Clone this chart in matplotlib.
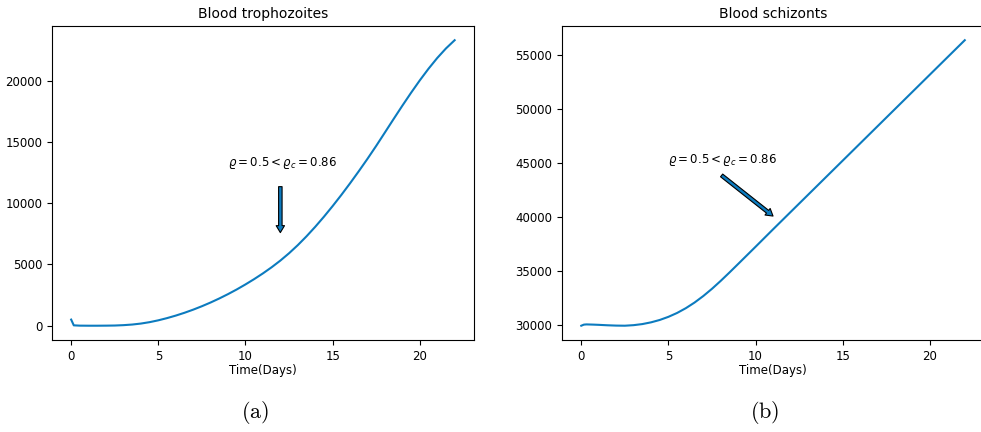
import numpy as np
import matplotlib
matplotlib.use("Agg")
import matplotlib.pyplot as plt

# values
t_troph = [0, 0.15, 0.5, 1, 1.5, 2, 2.5, 3, 3.5, 4, 4.5, 5, 5.5, 6, 6.5, 7, 7.5, 8,
           8.5, 9, 9.5, 10, 10.5, 11, 11.5, 12, 12.5, 13, 13.5, 14, 14.5, 15, 15.5,
           16, 16.5, 17, 17.5, 18, 18.5, 19, 19.5, 20, 20.5, 21, 21.5, 22]
troph = [500, 30, 5, 0, 0, 5, 15, 45, 95, 175, 290, 440, 620, 825, 1055, 1310,
         1590, 1895, 2225, 2580, 2960, 3370, 3805, 4270, 4770, 5315, 5915, 6575,
         7295, 8070, 8895, 9765, 10675, 11625, 12610, 13625, 14680, 15775, 16875,
         17960, 19015, 20025, 20975, 21850, 22630, 23305]

t_schiz = [0, 0.15, 0.3, 0.7, 1, 1.5, 2, 2.5, 3, 3.5, 4, 4.5, 5, 5.5, 6, 6.5, 7,
           7.5, 8, 8.5, 9, 9.5, 10, 11, 12, 13, 14, 15, 16, 17, 18, 19, 20, 21, 22]
schiz = [29980, 30080, 30100, 30080, 30060, 30020, 29990, 29980, 30030, 30130,
         30290, 30510, 30800, 31160, 31600, 32120, 32720, 33390, 34120, 34890,
         35680, 36475, 37270, 38873, 40460, 42047, 43634, 45221, 46808, 48395,
         49982, 51569, 53156, 54743, 56330]

line_color = "#0c7bbf"
label = r"$\varrho = 0.5 < \varrho_c = 0.86$"

plt.rcParams["font.size"] = 8.5

fig = plt.figure(figsize=(9.81, 4.32), dpi=100)
ax1 = fig.add_axes([0.053, 0.213, 0.430, 0.727])
ax2 = fig.add_axes([0.573, 0.213, 0.430, 0.727])

arrow_style = dict(facecolor=line_color, edgecolor="black", width=2.5,
                   headwidth=6, headlength=5, linewidth=0.8)

ax1.plot(t_troph, troph, color=line_color, linewidth=1.5)
ax1.set_title("Blood trophozoites", fontsize=10)
ax1.set_xlabel("Time(Days)", labelpad=1)
ax1.text(9, 13000, label)
ax1.annotate("", xy=(12, 7600), xytext=(12, 11350), arrowprops=arrow_style)

ax2.plot(t_schiz, schiz, color=line_color, linewidth=1.5)
ax2.set_title("Blood schizonts", fontsize=10)
ax2.set_xlabel("Time(Days)", labelpad=1)
ax2.text(5, 45000, label)
ax2.annotate("", xy=(11, 40100), xytext=(8.05, 43850), arrowprops=arrow_style)

for ax in (ax1, ax2):
    ax.set_xticks([0, 5, 10, 15, 20])

fig.text(255 / 981, 1 - 413 / 432, r"$\mathrm{(a)}$", fontsize=16,
         math_fontfamily="cm", ha="center", va="center")
fig.text(765 / 981, 1 - 413 / 432, r"$\mathrm{(b)}$", fontsize=16,
         math_fontfamily="cm", ha="center", va="center")

fig.savefig("out.png", dpi=100)
